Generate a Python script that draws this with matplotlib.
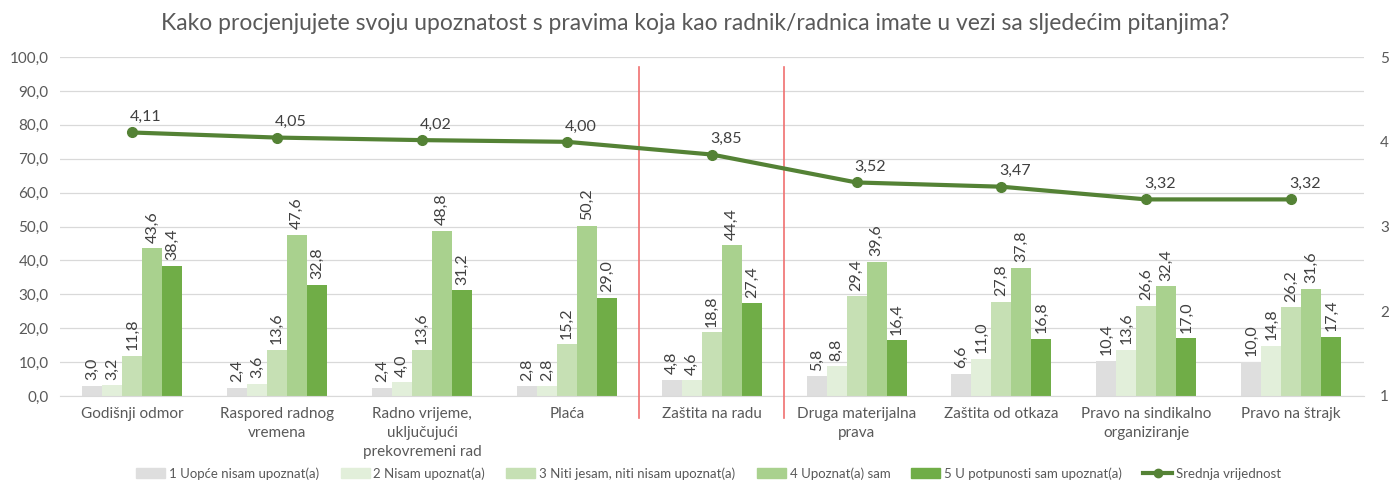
import numpy as np
import matplotlib.pyplot as plt
from matplotlib.lines import Line2D
from matplotlib.patches import Patch

plt.rcParams['font.family'] = ['Lato', 'DejaVu Sans']

categories = ['Godišnji odmor', 'Raspored radnog\nvremena',
              'Radno vrijeme,\nuključujući\nprekovremeni rad', 'Plaća',
              'Zaštita na radu', 'Druga materijalna\nprava', 'Zaštita od otkaza',
              'Pravo na sindikalno\norganiziranje', 'Pravo na štrajk']
series_names = ['1 Uopće nisam upoznat(a)', '2 Nisam upoznat(a)',
                '3 Niti jesam, niti nisam upoznat(a)', '4 Upoznat(a) sam',
                '5 U potpunosti sam upoznat(a)']
s1 = [3.0, 2.4, 2.4, 2.8, 4.8, 5.8, 6.6, 10.4, 10.0]
s2 = [3.2, 3.6, 4.0, 2.8, 4.6, 8.8, 11.0, 13.6, 14.8]
s3 = [11.8, 13.6, 13.6, 15.2, 18.8, 29.4, 27.8, 26.6, 26.2]
s4 = [43.6, 47.6, 48.8, 50.2, 44.4, 39.6, 37.8, 32.4, 31.6]
s5 = [38.4, 32.8, 31.2, 29.0, 27.4, 16.4, 16.8, 17.0, 17.4]
mean_vals = [4.11, 4.05, 4.02, 4.00, 3.85, 3.52, 3.47, 3.32, 3.32]
line_name = 'Srednja vrijednost'
left_ticks = np.arange(0, 101, 10)
right_ticks = [1, 2, 3, 4, 5]
separators = [3.5, 4.5]

colors = ['#dedede', '#e2efda', '#c6e0b4', '#a9d18e', '#70ad47']
line_color = '#548235'
txt = '#595959'

def fmt(v, d=1):
    return f'{v:.{d}f}'.replace('.', ',')

fig = plt.figure(figsize=(13.9, 4.84), dpi=100)
ax = fig.add_axes([0.043, 0.182, 0.938, 0.700])
x = np.arange(len(categories))
w = 0.138
all_series = [s1, s2, s3, s4, s5]
for i, (vals, c) in enumerate(zip(all_series, colors)):
    xs = x + (i - 2) * w
    ax.bar(xs, vals, width=w, color=c, zorder=2)
    for xx, v in zip(xs, vals):
        ax.annotate(fmt(v), (xx, v), xytext=(0, 4), textcoords='offset points',
                    rotation=90, ha='center', va='bottom', fontsize=11.5, color='#404040')

ax.set_ylim(0, 100)
ax.set_xlim(-0.5, len(categories) - 0.5)
ax.set_yticks(left_ticks)
ax.set_yticklabels([fmt(t) for t in left_ticks], fontsize=11, color=txt)
ax.set_xticks(x)
ax.set_xticklabels(categories, fontsize=11, color=txt, linespacing=1.45)
ax.tick_params(length=0, pad=8)
ax.grid(axis='y', color='#d9d9d9', linewidth=0.9, zorder=0)
ax.set_axisbelow(True)
for s in ['top', 'right', 'left']:
    ax.spines[s].set_visible(False)
ax.spines['bottom'].set_color('#d9d9d9')

for sx in separators:
    ax.plot([sx, sx], [97, -6.5], color='#f07070', linewidth=1.2, clip_on=False, zorder=5)

ax2 = ax.twinx()
ax2.set_ylim(1, 5)
ax2.set_yticks(right_ticks)
ax2.set_yticklabels([str(t) for t in right_ticks], fontsize=11, color=txt)
ax2.tick_params(length=0, pad=12)
for s in ax2.spines.values():
    s.set_visible(False)
ax2.plot(x, mean_vals, color=line_color, linewidth=3, marker='o', markersize=7, zorder=4)
for xx, v in zip(x, mean_vals):
    ax2.annotate(fmt(v, 2), (xx, v), xytext=(10, 6), textcoords='offset points',
                 ha='center', va='bottom', fontsize=11.5, color='#404040')

fig.text(0.5, 0.952, 'Kako procjenjujete svoju upoznatost s pravima koja kao radnik/radnica imate u vezi sa sljedećim pitanjima?',
         ha='center', va='center', fontsize=16.5, color=txt)

handles = [Patch(color=c) for c in colors]
handles.append(Line2D([0], [0], color=line_color, linewidth=3, marker='o', markersize=6))
fig.legend(handles, series_names + [line_name], loc='center', bbox_to_anchor=(0.51, 0.022),
           ncol=6, frameon=False, fontsize=9.5, labelcolor=txt, handlelength=2.2,
           handleheight=0.8, columnspacing=1.6, handletextpad=0.3)

fig.savefig('out.png', dpi=100)
